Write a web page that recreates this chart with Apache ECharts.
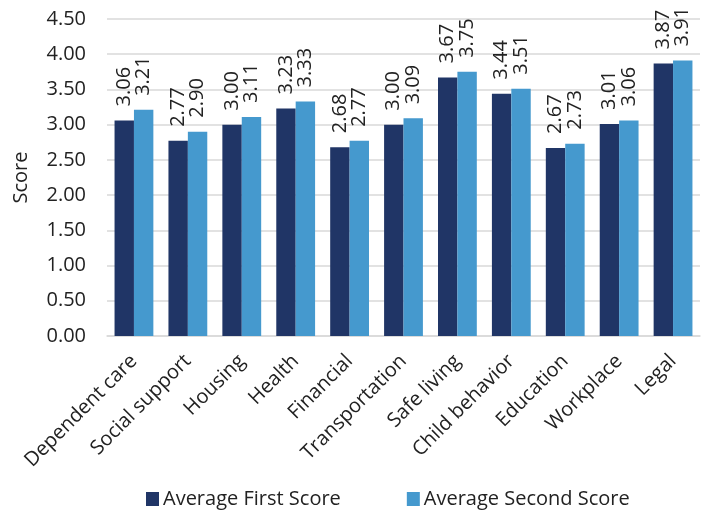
<!DOCTYPE html>
<html><head><meta charset="utf-8">
<script src="https://cdn.jsdelivr.net/npm/echarts@6/dist/echarts.min.js"></script>
<style>html,body{margin:0;padding:0;background:#fff}#c{width:707px;height:512px}</style>
</head><body><div id="c"></div>
<script>
const categories = ["Dependent care","Social support","Housing","Health","Financial","Transportation","Safe living","Child behavior","Education","Workplace","Legal"];
const firstScore = [3.06,2.77,3.00,3.23,2.68,3.00,3.67,3.44,2.67,3.01,3.87];
const secondScore = [3.21,2.90,3.11,3.33,2.77,3.09,3.75,3.51,2.73,3.06,3.91];
const seriesNames = ["Average First Score","Average Second Score"];
const FONT = "Open Sans";
const TXT = "#222";
const chart = echarts.init(document.getElementById('c'));
const lbl = {show:true, position:'top', rotate:90, align:'left', verticalAlign:'middle', distance:14,
  fontFamily:FONT, fontSize:20, color:TXT, formatter:p=>p.value.toFixed(2)};
chart.setOption({
  animation:false,
  textStyle:{fontFamily:FONT},
  grid:{left:107,right:7,top:19,bottom:176,containLabel:false},
  legend:{top:484,left:141,itemWidth:13,itemHeight:14,itemGap:66,icon:'rect',
    textStyle:{fontFamily:FONT,fontSize:20,color:TXT,padding:[0,0,0,-1]}},
  xAxis:{type:'category',data:categories,
    axisLine:{lineStyle:{color:'#d9d9d9',width:1.5}},axisTick:{show:false},
    axisLabel:{rotate:45,interval:0,margin:22,fontFamily:FONT,fontSize:20,color:TXT}},
  yAxis:{type:'value',min:0,max:4.5,interval:0.5,name:'Score',nameLocation:'middle',nameGap:76,
    nameTextStyle:{fontFamily:FONT,fontSize:20,color:TXT},
    axisLabel:{formatter:v=>v.toFixed(2),margin:21,fontFamily:FONT,fontSize:20,color:TXT},
    splitLine:{lineStyle:{color:'#d9d9d9',width:1.5}},axisLine:{show:false},axisTick:{show:false}},
  series:[
    {name:seriesNames[0],type:'bar',data:firstScore,barGap:'0%',barCategoryGap:'28%',itemStyle:{color:'#203566'},label:lbl},
    {name:seriesNames[1],type:'bar',data:secondScore,itemStyle:{color:'#4599CE'},label:lbl}
  ]
});
</script></body></html>
